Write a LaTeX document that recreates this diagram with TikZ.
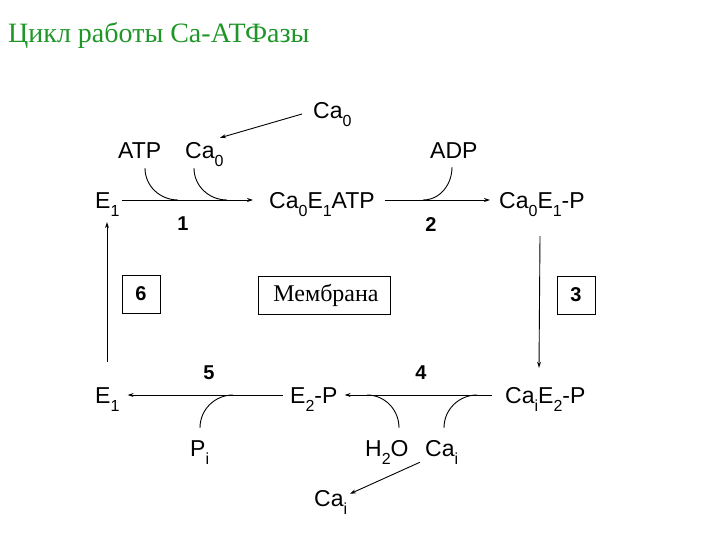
\documentclass[tikz,border=0pt]{standalone}
\usepackage{fontspec}
\setmainfont{Liberation Serif}
\newfontfamily\chemfont{Liberation Sans}
\usetikzlibrary{arrows.meta}
\definecolor{titlegreen}{RGB}{30,150,40}
\newcommand\lo[1]{\raisebox{-8pt}{\fontsize{16}{16}\selectfont #1}}
\tikzset{
  chem/.style={anchor=west, inner sep=0pt, text height=16pt, text depth=0pt,
    font=\chemfont\fontsize{23}{23}\selectfont},
  num/.style={inner sep=0pt, font=\chemfont\bfseries\fontsize{20}{20}\selectfont},
  numbox/.style={draw, line width=0.8pt, minimum width=38pt, minimum height=38pt,
    inner sep=0pt, font=\chemfont\bfseries\fontsize{20}{20}\selectfont},
  rx/.style={line width=0.9pt, -{Stealth[length=6pt,width=4pt]}},
  side/.style={line width=0.9pt},
}
\begin{document}
\begin{tikzpicture}[x=1pt,y=-1pt]
\useasboundingbox (0,0) rectangle (720,540);
% title
\node[anchor=west, inner sep=0pt, text=titlegreen, font=\fontsize{28}{28}\selectfont] (title) at (8,35) {Цикл работы Са-АТФазы};
% species
\node[chem] (ca0a) at (313,111) {Ca\lo{0}};
\node[chem] (atp) at (118,151) {ATP};
\node[chem] (ca0b) at (185,151) {Ca\lo{0}};
\node[chem] (adp) at (430,151) {ADP};
\node[chem] (e1t) at (95,200) {E\lo{1}};
\node[chem] (c0e1atp) at (269,200) {Ca\lo{0}E\lo{1}ATP};
\node[chem] (c0e1p) at (499,200) {Ca\lo{0}E\lo{1}-P};
\node[chem] (e1b) at (95,395) {E\lo{1}};
\node[chem] (e2p) at (290,395) {E\lo{2}-P};
\node[chem] (cie2p) at (505,395) {Ca\lo{i}E\lo{2}-P};
\node[chem] (pi) at (190,448) {P\lo{i}};
\node[chem] (h2o) at (365,448) {H\lo{2}O};
\node[chem] (caib) at (425,448) {Ca\lo{i}};
\node[chem] (caic) at (314,498) {Ca\lo{i}};
% step numbers
\node[num] (n1) at (183,224) {1};
\node[num] (n2) at (431,225) {2};
\node[num] (n4) at (421,373) {4};
\node[num] (n5) at (209,373) {5};
\node[numbox] (b6) at (141,294) {6};
\node[numbox] (b3) at (576,295) {3};
\node[draw, line width=0.8pt, minimum width=132pt, minimum height=38pt, inner sep=0pt,
  font=\fontsize{24}{24}\selectfont] (memb) at (324,295) {\,Мембрана};
% merge points on reaction lines
\coordinate (m1) at (178,200);
\coordinate (m2) at (227,200);
\coordinate (m3) at (423,200);
\coordinate (m4) at (233,395);
\coordinate (m5) at (367,395);
\coordinate (m6) at (477,395);
% reaction arrows
\draw[rx] ([xshift=2pt]e1t.east) -- ([xshift=-16pt]c0e1atp.west);
\draw[rx] ([xshift=10pt]c0e1atp.east) -- ([xshift=-9pt]c0e1p.west);
\draw[rx] ([xshift=41pt,yshift=-28pt]c0e1p.south west) -- ([xshift=34pt,yshift=19pt]cie2p.north west);
\draw[rx] ([xshift=-13pt]cie2p.west) -- ([xshift=7pt]e2p.east);
\draw[rx] ([xshift=-7pt]e2p.west) -- ([xshift=8pt]e1b.east);
\draw[rx] ([xshift=12pt,yshift=25pt]e1b.north west) -- ([xshift=12pt,yshift=-14pt]e1t.south west);
% co-substrate curves
\draw[side] ([xshift=27pt,yshift=-9pt]atp.south west) to[out=-90,in=180] (m1);
\draw[side] ([xshift=9pt,yshift=-9pt]ca0b.south west) to[out=-90,in=180] (m2);
\draw[side] ([xshift=22pt,yshift=-8pt]adp.south west) to[out=-90,in=0] (m3);
\draw[side] ([xshift=10pt,yshift=12pt]pi.north west) to[out=90,in=180] (m4);
\draw[side] ([xshift=34pt,yshift=12pt]h2o.north west) to[out=90,in=0] (m5);
\draw[side] ([xshift=19pt,yshift=12pt]caib.north west) to[out=90,in=180] (m6);
% Ca transport arrows
\draw[rx] ([xshift=-11pt,yshift=-3pt]ca0a.west) -- ([xshift=35pt,yshift=5pt]ca0b.north west);
\draw[rx] ([xshift=-5pt,yshift=-6pt]caib.south west) -- ([xshift=36pt,yshift=-4pt]caic.north west);
\end{tikzpicture}
\end{document}
